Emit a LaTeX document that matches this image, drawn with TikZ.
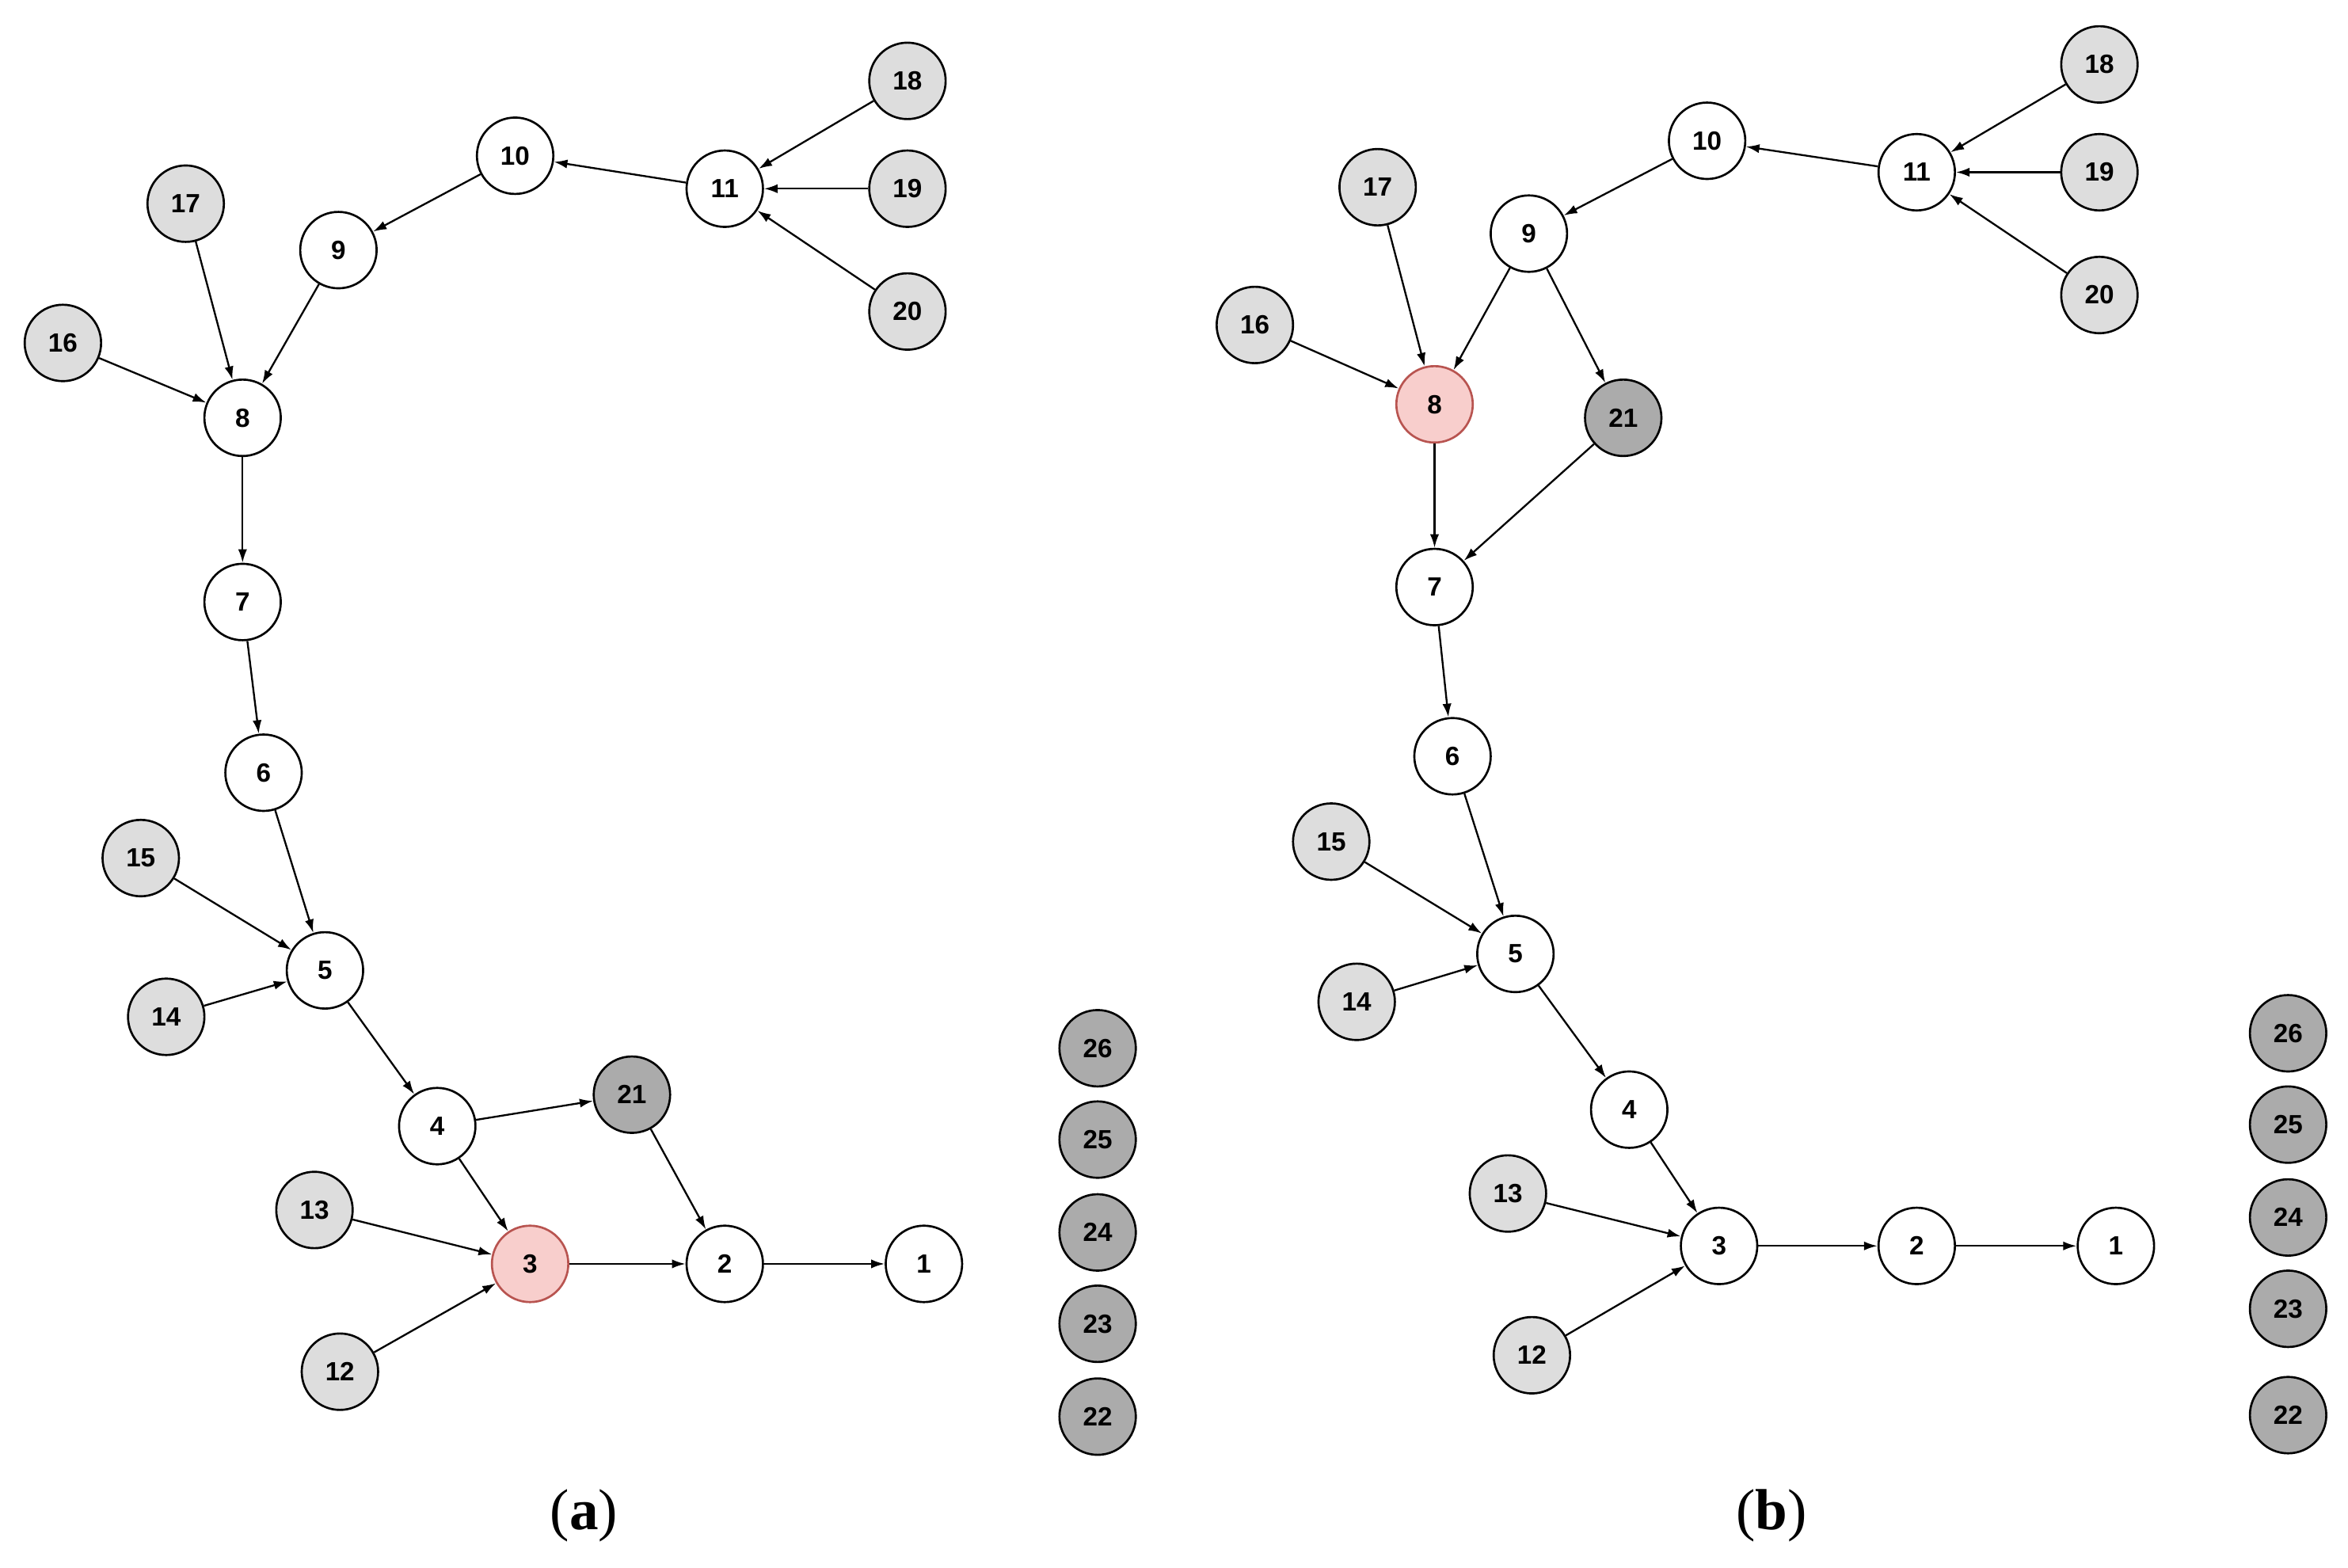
\documentclass[tikz,border=0pt]{standalone}
\usepackage{fontspec}
\setmainfont{Liberation Sans}
\newfontfamily\capfont{Liberation Serif}
\usetikzlibrary{arrows.meta}
\definecolor{lightgr}{HTML}{DDDDDD}
\definecolor{darkgr}{HTML}{ABABAB}
\definecolor{pinkfill}{HTML}{F8CECC}
\definecolor{pinkdraw}{HTML}{B85450}
\begin{document}
\begin{tikzpicture}[x=0.01cm, y=-0.01cm]
        \tikzstyle{vertex}=[draw, circle, fill=white, line width=0.4pt,
            minimum size=0.51cm, inner sep=0pt, font=\fontsize{5}{6}\selectfont\bfseries]
        \tikzstyle{leaf}=[vertex, fill=lightgr]
        \tikzstyle{extra}=[vertex, fill=darkgr]
        \tikzstyle{hit}=[vertex, fill=pinkfill, draw=pinkdraw]
        \tikzstyle{arc}=[-{Latex[length=0.9mm, width=0.6mm]}, line width=0.35pt]
        \tikzstyle{caption}=[font=\capfont\fontsize{11}{13}\selectfont]

        \useasboundingbox (0,0) rectangle (1568,1047);

        % panel (a)
        \node[leaf] (a18) at (606, 54) {18};
        \node[leaf] (a19) at (606, 126) {19};
        \node[leaf] (a20) at (606, 208) {20};
        \node[vertex] (a11) at (484, 126) {11};
        \node[vertex] (a10) at (344, 104) {10};
        \node[vertex] (a9) at (226, 167) {9};
        \node[leaf] (a17) at (124, 136) {17};
        \node[leaf] (a16) at (42, 229) {16};
        \node[vertex] (a8) at (162, 279) {8};
        \node[vertex] (a7) at (162, 402) {7};
        \node[vertex] (a6) at (176, 516) {6};
        \node[leaf] (a15) at (94, 573) {15};
        \node[leaf] (a14) at (111, 679) {14};
        \node[vertex] (a5) at (217, 648) {5};
        \node[vertex] (a4) at (292, 752) {4};
        \node[extra] (a21) at (422, 731) {21};
        \node[hit] (a3) at (354, 844) {3};
        \node[leaf] (a13) at (210, 808) {13};
        \node[leaf] (a12) at (227, 916) {12};
        \node[vertex] (a2) at (484, 844) {2};
        \node[vertex] (a1) at (617, 844) {1};
        \node[extra] (a26) at (733, 700) {26};
        \node[extra] (a25) at (733, 761) {25};
        \node[extra] (a24) at (733, 823) {24};
        \node[extra] (a23) at (733, 884) {23};
        \node[extra] (a22) at (733, 946) {22};
        \node[caption] (acap) at (390, 1012) {(\textbf{a})};

        \draw[arc] (a18) to (a11);
        \draw[arc] (a19) to (a11);
        \draw[arc] (a20) to (a11);
        \draw[arc] (a11) to (a10);
        \draw[arc] (a10) to (a9);
        \draw[arc] (a9) to (a8);
        \draw[arc] (a17) to (a8);
        \draw[arc] (a16) to (a8);
        \draw[arc] (a8) to (a7);
        \draw[arc] (a7) to (a6);
        \draw[arc] (a6) to (a5);
        \draw[arc] (a15) to (a5);
        \draw[arc] (a14) to (a5);
        \draw[arc] (a5) to (a4);
        \draw[arc] (a4) to (a21);
        \draw[arc] (a4) to (a3);
        \draw[arc] (a21) to (a2);
        \draw[arc] (a13) to (a3);
        \draw[arc] (a12) to (a3);
        \draw[arc] (a3) to (a2);
        \draw[arc] (a2) to (a1);

        % panel (b)
        \node[leaf] (b18) at (1402, 43) {18};
        \node[leaf] (b19) at (1402, 115) {19};
        \node[leaf] (b20) at (1402, 197) {20};
        \node[vertex] (b11) at (1280, 115) {11};
        \node[vertex] (b10) at (1140, 94) {10};
        \node[vertex] (b9) at (1021, 156) {9};
        \node[leaf] (b17) at (920, 125) {17};
        \node[leaf] (b16) at (838, 217) {16};
        \node[hit] (b8) at (958, 270) {8};
        \node[extra] (b21) at (1084, 279) {21};
        \node[vertex] (b7) at (958, 392) {7};
        \node[vertex] (b6) at (970, 505) {6};
        \node[leaf] (b15) at (889, 562) {15};
        \node[leaf] (b14) at (906, 669) {14};
        \node[vertex] (b5) at (1012, 637) {5};
        \node[vertex] (b4) at (1088, 741) {4};
        \node[leaf] (b13) at (1007, 797) {13};
        \node[vertex] (b3) at (1148, 832) {3};
        \node[leaf] (b12) at (1023, 905) {12};
        \node[vertex] (b2) at (1280, 832) {2};
        \node[vertex] (b1) at (1413, 832) {1};
        \node[extra] (b26) at (1528, 690) {26};
        \node[extra] (b25) at (1528, 751) {25};
        \node[extra] (b24) at (1528, 813) {24};
        \node[extra] (b23) at (1528, 874) {23};
        \node[extra] (b22) at (1528, 945) {22};
        \node[caption] (bcap) at (1183, 1012) {(\textbf{b})};

        \draw[arc] (b18) to (b11);
        \draw[arc] (b19) to (b11);
        \draw[arc] (b20) to (b11);
        \draw[arc] (b11) to (b10);
        \draw[arc] (b10) to (b9);
        \draw[arc] (b9) to (b8);
        \draw[arc] (b9) to (b21);
        \draw[arc] (b17) to (b8);
        \draw[arc] (b16) to (b8);
        \draw[arc] (b8) to (b7);
        \draw[arc] (b21) to (b7);
        \draw[arc] (b7) to (b6);
        \draw[arc] (b6) to (b5);
        \draw[arc] (b15) to (b5);
        \draw[arc] (b14) to (b5);
        \draw[arc] (b5) to (b4);
        \draw[arc] (b4) to (b3);
        \draw[arc] (b13) to (b3);
        \draw[arc] (b12) to (b3);
        \draw[arc] (b3) to (b2);
        \draw[arc] (b2) to (b1);
    \end{tikzpicture}
\end{document}
